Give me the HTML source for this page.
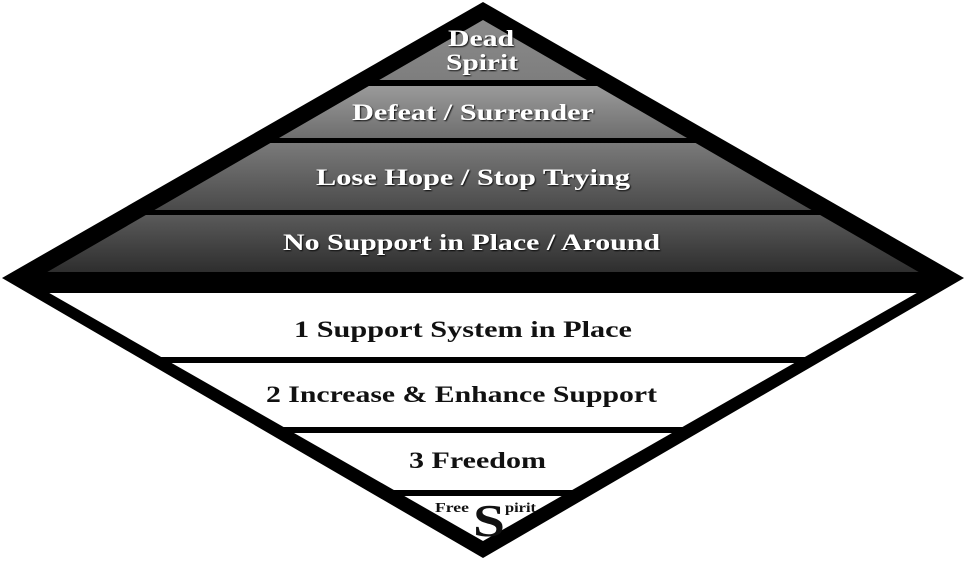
<!DOCTYPE html>
<html><head><style>html,body{margin:0;padding:0;background:#fff;}svg{display:block}</style></head>
<body>
<svg width="966" height="562" viewBox="0 0 966 562" xmlns="http://www.w3.org/2000/svg">
<defs>
<linearGradient id="g1" x1="0" y1="0" x2="0" y2="1"><stop offset="0" stop-color="#8e8e8e"/><stop offset="1" stop-color="#7e7e7e"/></linearGradient>
<linearGradient id="g2" x1="0" y1="0" x2="0" y2="1"><stop offset="0" stop-color="#9a9a9a"/><stop offset="1" stop-color="#6e6e6e"/></linearGradient>
<linearGradient id="g3" x1="0" y1="0" x2="0" y2="1"><stop offset="0" stop-color="#7a7a7a"/><stop offset="1" stop-color="#4a4a4a"/></linearGradient>
<linearGradient id="g4" x1="0" y1="0" x2="0" y2="1"><stop offset="0" stop-color="#5a5a5a"/><stop offset="1" stop-color="#2e2e2e"/></linearGradient>
<clipPath id="c"><polygon points="483,20 30,282 483,541 936,282"/></clipPath>
<filter id="sh"><feDropShadow dx="1" dy="1" stdDeviation="0.8" flood-color="#000" flood-opacity="0.9"/></filter>
</defs>
<polygon points="483,2 2,278 483,558 964,278" fill="#000"/>
<g clip-path="url(#c)">
<rect x="0" y="0" width="966" height="80" fill="url(#g1)"/>
<rect x="0" y="86" width="966" height="52" fill="url(#g2)"/>
<rect x="0" y="143" width="966" height="67" fill="url(#g3)"/>
<rect x="0" y="215" width="966" height="57" fill="url(#g4)"/>
<rect x="0" y="293" width="966" height="64" fill="#fff"/>
<rect x="0" y="363" width="966" height="64" fill="#fff"/>
<rect x="0" y="433" width="966" height="57" fill="#fff"/>
<rect x="0" y="496" width="966" height="60" fill="#fff"/>
</g>
<g font-family="'Liberation Serif', serif" font-weight="bold" fill="#fff" filter="url(#sh)" font-size="23" lengthAdjust="spacingAndGlyphs">
<text x="448" y="46" textLength="66" lengthAdjust="spacingAndGlyphs">Dead</text>
<text x="446" y="70" textLength="72" lengthAdjust="spacingAndGlyphs">Spirit</text>
<text x="352" y="120" textLength="242" lengthAdjust="spacingAndGlyphs">Defeat / Surrender</text>
<text x="316" y="185" textLength="314" lengthAdjust="spacingAndGlyphs">Lose Hope / Stop Trying</text>
<text x="283" y="250" textLength="377" lengthAdjust="spacingAndGlyphs">No Support in Place / Around</text>
</g>
<g font-family="'Liberation Serif', serif" font-weight="bold" fill="#111" font-size="23">
<text x="294" y="337" textLength="338" lengthAdjust="spacingAndGlyphs">1 Support System in Place</text>
<text x="266" y="402" textLength="391" lengthAdjust="spacingAndGlyphs">2 Increase &amp; Enhance Support</text>
<text x="409" y="468" textLength="137" lengthAdjust="spacingAndGlyphs">3 Freedom</text>
</g>
<g font-family="'Liberation Serif', serif" font-weight="bold" fill="#111">
<text x="435" y="512" font-size="14" textLength="34" lengthAdjust="spacingAndGlyphs">Free</text>
<text x="473" y="536" font-size="46" textLength="32" lengthAdjust="spacingAndGlyphs">S</text>
<text x="505" y="512" font-size="14" textLength="31" lengthAdjust="spacingAndGlyphs">pirit</text>
</g>
</svg>
</body></html>
